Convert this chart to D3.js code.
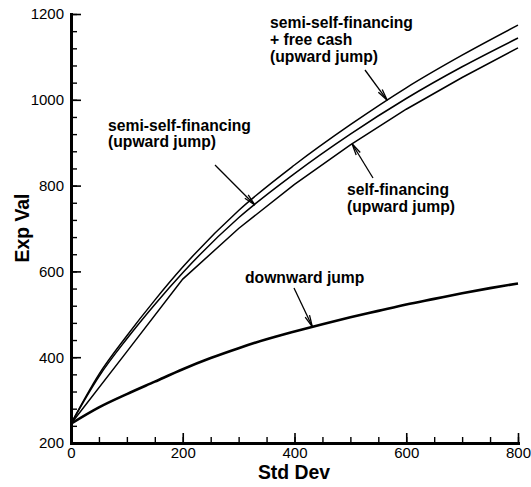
<!DOCTYPE html>
<html>
<head>
<meta charset="utf-8">
<script src="https://cdn.jsdelivr.net/npm/d3@7"></script>
<style>
  html, body { margin: 0; padding: 0; background: #fff; }
  svg { display: block; font-family: "Liberation Sans", Arial, Helvetica, sans-serif; }
</style>
</head>
<body>
<svg id="chart" width="531" height="487"></svg>
<script>
// Standard deviation grid points
const stdDev = [0, 50, 100, 150, 200, 300, 400, 500, 600, 700, 800];
// Expected value: semi-self-financing + free cash (upward jump)
const semiSelfCash = [245, 360, 450, 533, 610, 742, 848, 942, 1028, 1104, 1174];
// Expected value: semi-self-financing (upward jump)
const semiSelf = [245, 355, 443, 523, 597, 725, 828, 920, 1003, 1077, 1144];
// Expected value: self-financing (upward jump)
const selfStd = [0, 100, 200, 300, 400, 500, 600, 700, 800];
const selfFin = [245, 413, 582, 700, 803, 895, 978, 1052, 1121];
// Expected value: downward jump
const downStd = [0, 50, 100, 150, 200, 250, 300, 350, 400, 450, 500, 550, 600, 650, 700, 750, 800];
const downJump = [245, 283, 314, 343, 372, 398, 421, 442, 460, 477, 493, 508, 523, 536, 549, 561, 572];

const xTicks = [0, 200, 400, 600, 800];
const yTicks = [200, 400, 600, 800, 1000, 1200];

const svg = d3.select("#chart");
const x = d3.scaleLinear().domain([0, 800]).range([71, 518]);
const y = d3.scaleLinear().domain([200, 1200]).range([443, 14]);

const zip = (xs, ys) => xs.map((v, i) => [v, ys[i]]);
const interp = (xs, ys, xv) => {
  for (let i = 1; i < xs.length; i++) {
    if (xv <= xs[i]) {
      const t = (xv - xs[i - 1]) / (xs[i] - xs[i - 1]);
      return ys[i - 1] + t * (ys[i] - ys[i - 1]);
    }
  }
  return ys[ys.length - 1];
};

const smooth = d3.line().x(d => x(d[0])).y(d => y(d[1])).curve(d3.curveMonotoneX);
const straight = d3.line().x(d => x(d[0])).y(d => y(d[1]));

// curves
const g = svg.append("g").attr("fill", "none").attr("stroke", "#000");
g.append("path").attr("d", smooth(zip(downStd, downJump))).attr("stroke-width", 2.6);
g.append("path").attr("d", straight(zip(selfStd, selfFin))).attr("stroke-width", 1.5);
g.append("path").attr("d", smooth(zip(stdDev, semiSelf))).attr("stroke-width", 1.5);
g.append("path").attr("d", smooth(zip(stdDev, semiSelfCash))).attr("stroke-width", 1.5);

// axes: major and minor ticks pointing into the plot
function styleAxis(sel) {
  sel.select(".domain").attr("stroke-width", 3).attr("stroke-linecap", "square");
  sel.selectAll(".tick line").attr("stroke-width", 1.6);
  sel.selectAll(".tick text").attr("font-size", 15).attr("fill", "#000")
    .attr("font-family", "'Liberation Sans', Arial, sans-serif");
}
svg.append("g").attr("transform", "translate(0,443)")
  .call(d3.axisBottom(x).tickValues(d3.range(0, 801, 50)).tickSize(-6).tickSizeOuter(0).tickFormat(""))
  .call(s => { s.select(".domain").remove(); s.selectAll(".tick line").attr("stroke-width", 1.4); });
svg.append("g").attr("transform", "translate(71,0)")
  .call(d3.axisLeft(y).tickValues(d3.range(200, 1201, 40)).tickSize(-6).tickSizeOuter(0).tickFormat(""))
  .call(s => { s.select(".domain").remove(); s.selectAll(".tick line").attr("stroke-width", 1.4); });
svg.append("g").attr("transform", "translate(0,443)")
  .call(d3.axisBottom(x).tickValues(xTicks).tickSize(-10).tickSizeOuter(0).tickPadding(4).tickFormat(d3.format("d")))
  .call(styleAxis);
svg.append("g").attr("transform", "translate(71,0)")
  .call(d3.axisLeft(y).tickValues(yTicks).tickSize(-10).tickSizeOuter(0).tickPadding(7).tickFormat(d3.format("d")))
  .call(styleAxis);

// axis titles
svg.append("text").attr("x", 294).attr("y", 479).attr("text-anchor", "middle")
  .attr("font-size", 19.4).attr("font-weight", "bold").text("Std Dev");
svg.append("text").attr("transform", "translate(29,228) rotate(-90)").attr("text-anchor", "middle")
  .attr("font-size", 19.4).attr("font-weight", "bold").text("Exp Val");

// annotations with open arrowheads
function label(lines, lx, ly, lh) {
  const t = svg.append("text").attr("font-size", 15.7).attr("font-weight", "bold");
  lines.forEach((s, i) => t.append("tspan").attr("x", lx).attr("y", ly + i * lh).text(s));
}
function arrow(x0, y0, x1, y1) {
  const a = svg.append("g").attr("stroke", "#000").attr("stroke-width", 1.3).attr("fill", "none");
  a.append("line").attr("x1", x0).attr("y1", y0).attr("x2", x1).attr("y2", y1);
  const ang = Math.atan2(y1 - y0, x1 - x0), len = 12, spread = 0.2;
  [ang + Math.PI - spread, ang + Math.PI + spread].forEach(b => {
    a.append("line").attr("x1", x1).attr("y1", y1)
      .attr("x2", x1 + len * Math.cos(b)).attr("y2", y1 + len * Math.sin(b));
  });
}

label(["semi-self-financing", "(upward jump)"], 108, 131, 16);
arrow(215, 165, x(329), y(interp(stdDev, semiSelf, 329)));

label(["semi-self-financing", "+ free cash", "(upward jump)"], 270, 28, 16.8);
arrow(365, 70, x(566), y(interp(stdDev, semiSelfCash, 566)));

label(["self-financing", "(upward jump)"], 347, 195, 17);
arrow(373, 178, x(503), y(interp(selfStd, selfFin, 503)));

label(["downward jump"], 245, 283, 16);
arrow(294, 288, x(432), y(interp(downStd, downJump, 432)));
</script>
</body>
</html>
